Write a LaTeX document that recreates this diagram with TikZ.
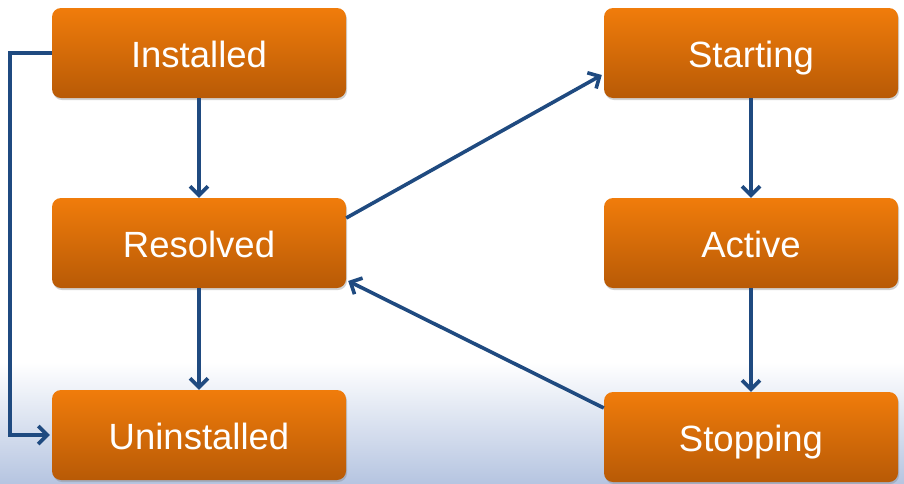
\documentclass[tikz,border=0pt]{standalone}
\usepackage{fontspec}
\setmainfont{Liberation Sans}
\usetikzlibrary{arrows.meta,shadows}
\definecolor{boxtop}{HTML}{F07C0B}
\definecolor{boxbot}{HTML}{B85A06}
\definecolor{linec}{HTML}{1F4A80}
\definecolor{bgblue}{HTML}{B6C5E1}
\tikzset{
  state/.style={rounded corners=9pt, minimum width=294pt, minimum height=90pt,
    top color=boxtop, bottom color=boxbot, draw=none, text=white,
    font=\fontsize{36.5}{40}\selectfont, text height=28pt, text depth=0pt,
    drop shadow={opacity=0.35, shadow xshift=1pt, shadow yshift=-2pt}},
  conn/.style={draw=linec, line width=3.6pt, -{Straight Barb[length=9pt,width=18pt,line width=3.6pt]}},
}
\begin{document}
\begin{tikzpicture}[x=1pt,y=-1pt]
\useasboundingbox (0,0) rectangle (904,483);
\fill[white] (0,0) rectangle (904,483);
\shade[top color=white, bottom color=bgblue] (0,362) rectangle (904,483);
\node[state] (inst) at (199,53) {Installed};
\node[state] (res) at (199,243) {Resolved};
\node[state] (unin) at (199,435) {Uninstalled};
\node[state] (start) at (751,53) {Starting};
\node[state] (act) at (751,243) {Active};
\node[state] (stop) at (751,437) {Stopping};
\draw[conn] (inst) -- (res);
\draw[conn] (res) -- (unin);
\draw[conn] (start) -- (act);
\draw[conn] (act) -- (stop);
\draw[conn] ([yshift=25pt]res.east) -- ([yshift=-22pt,xshift=-2pt]start.west);
\draw[conn] ([yshift=29pt]stop.west) -- ([yshift=-38pt,xshift=2pt]res.east);
\draw[conn] (inst.west) -- ++(-42,0) |- ([xshift=-2pt]unin.west);
\end{tikzpicture}
\end{document}
